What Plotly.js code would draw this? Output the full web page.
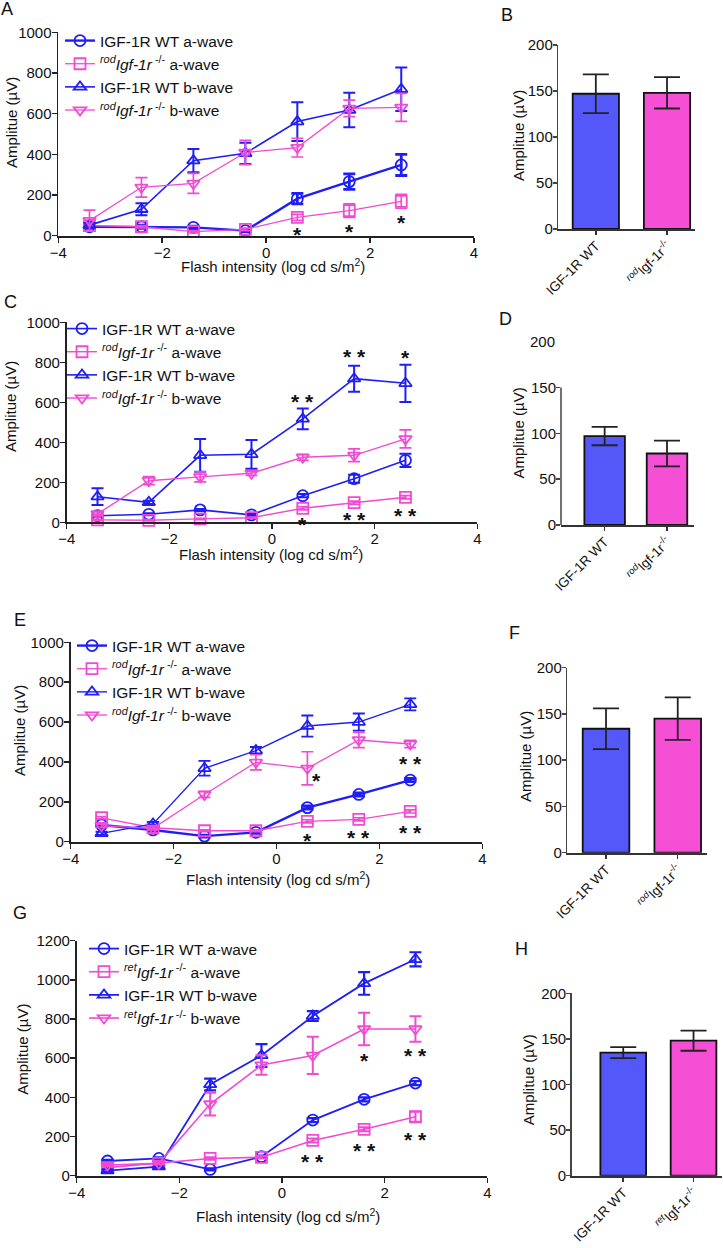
<!DOCTYPE html>
<html>
<head>
<meta charset="utf-8">
<script src="https://cdn.plot.ly/plotly-3.0.1.min.js"></script>
<style>
  html, body { margin: 0; padding: 0; background: #fff; }
  #chart { width: 723px; height: 1248px; }
</style>
</head>
<body>
<div id="chart"></div>
<script>
// flash intensities (log cd s/m2)
const flashX = [-3.4, -2.4, -1.4, -0.4, 0.6, 1.6, 2.6];

// panel A
const aWtA = [44, 44, 41, 25, 182, 266, 348];
const aWtAErr = [8, 8, 6, 6, 26, 38, 52];
const aKoA = [50, 44, 20, 31, 90, 123, 169];
const aKoAErr = [8, 6, 5, 6, 15, 33, 34];
const aWtB = [52, 130, 369, 405, 561, 618, 720];
const aWtBErr = [10, 30, 57, 52, 95, 85, 107];
const aKoB = [74, 238, 257, 409, 433, 626, 631];
const aKoBErr = [52, 48, 49, 60, 46, 41, 69];
const aStarX = [0.6, 1.6, 2.6];
const aStarY = [28, 46, 88];
const aStarText = ['*', '*', '*'];

// panel C
const cWtA = [33, 40, 62, 37, 133, 218, 310];
const cWtAErr = [5, 5, 5, 5, 8, 20, 33];
const cKoA = [12, 10, 17, 23, 70, 98, 125];
const cKoAErr = [3, 3, 3, 3, 8, 8, 8];
const cWtB = [128, 100, 335, 340, 517, 718, 695];
const cWtBErr = [42, 8, 82, 72, 52, 65, 93];
const cKoB = [42, 208, 227, 245, 325, 335, 417];
const cKoBErr = [10, 20, 25, 10, 15, 32, 45];
const cStarX = [0.6, 1.6, 2.6, 0.6, 1.6, 2.6];
const cStarY = [630, 853, 848, 13, 40, 57];
const cStarText = ['* *', '* *', '*', '*', '* *', '* *'];

// panel E
const eWtA = [84, 59, 28, 47, 171, 237, 309];
const eWtAErr = [6, 6, 5, 5, 8, 8, 8];
const eKoA = [120, 70, 55, 55, 102, 112, 152];
const eKoAErr = [6, 5, 5, 5, 8, 8, 8];
const eWtB = [42, 89, 368, 457, 580, 600, 689];
const eWtBErr = [8, 10, 37, 18, 53, 43, 30];
const eKoB = [80, 67, 237, 398, 368, 510, 490];
const eKoBErr = [8, 8, 15, 38, 83, 38, 18];
const eStarX = [0.78, 2.6, 0.6, 1.6, 2.6];
const eStarY = [331, 415, 30, 47, 69];
const eStarText = ['*', '* *', '*', '* *', '* *'];

// panel G
const gWtA = [75, 88, 32, 97, 284, 390, 473];
const gWtAErr = [6, 6, 5, 6, 10, 10, 10];
const gKoA = [41, 63, 88, 94, 180, 237, 301];
const gKoAErr = [6, 6, 6, 6, 10, 10, 25];
const gWtB = [26, 46, 466, 614, 815, 982, 1105];
const gWtBErr = [6, 6, 30, 58, 25, 58, 36];
const gKoB = [54, 63, 366, 565, 614, 749, 749];
const gKoBErr = [6, 6, 58, 50, 95, 83, 65];
const gStarX = [1.6, 2.6, 0.6, 1.6, 2.6];
const gStarY = [616, 638, 97, 153, 208];
const gStarText = ['*', '* *', '* *', '* *', '* *'];

// bar panels (B, D, F, H)
const barB = [147, 148];
const barBErr = [21, 17];
const barD = [97, 78];
const barDErr = [10, 14];
const barF = [134, 145];
const barFErr = [22, 23];
const barH = [135, 148];
const barHErr = [6, 11];

const W = 723;
const H = 1248;
const BLUE = '#1f1ff5';
const PINK = '#f04bd2';
const BAR_BLUE = '#5558f8';
const BAR_PINK = '#f54fd6';
const FONT = 'Liberation Sans, Arial, sans-serif';
const Y_TITLE = 'Amplitue (µV)';
const X_TITLE = 'Flash intensity (log cd s/m<sup>2</sup>)';

const px = v => v / W;
const py = v => 1 - v / H;

function koLabel(prefix) {
    return `<i><sup>${prefix}</sup>Igf-1r</i><sup> -/-</sup>`;
}

const linePanels = [
    {
        n: 1, letter: 'A', ko: 'rod', ymax: 1000, xPx: [58.3, 474], yPx: [235.7, 32.3],
        letterAt: [7, 9], legendAt: [60, 24], xTitleAt: [272.5, 265], yTitleAt: [12, 123],
        series: [[aWtA, aWtAErr], [aKoA, aKoAErr], [aWtB, aWtBErr], [aKoB, aKoBErr]],
        widths: [2.4, 1.3, 1.6, 1.3], stars: [aStarX, aStarY, aStarText],
    },
    {
        n: 3, letter: 'C', ko: 'rod', ymax: 1000, xPx: [66.7, 477.3], yPx: [522.3, 322.3],
        letterAt: [10, 302], legendAt: [62, 312], xTitleAt: [271, 553], yTitleAt: [10, 407],
        series: [[cWtA, cWtAErr], [cKoA, cKoAErr], [cWtB, cWtBErr], [cKoB, cKoBErr]],
        widths: [1.6, 1.4, 1.6, 1.4], stars: [cStarX, cStarY, cStarText],
    },
    {
        n: 5, letter: 'E', ko: 'rod', ymax: 1000, xPx: [70.7, 482.3], yPx: [841.7, 642.3],
        letterAt: [19.5, 619.5], legendAt: [72, 629], xTitleAt: [277.5, 878], yTitleAt: [19, 731],
        series: [[eWtA, eWtAErr], [eKoA, eKoAErr], [eWtB, eWtBErr], [eKoB, eKoBErr]],
        widths: [2.4, 1.3, 1.4, 1.3], stars: [eStarX, eStarY, eStarText],
    },
    {
        n: 7, letter: 'G', ko: 'ret', ymax: 1200, xPx: [76.7, 487.3], yPx: [1175.7, 940.7],
        letterAt: [20, 913], legendAt: [84, 932], xTitleAt: [287.5, 1215], yTitleAt: [21.7, 1049],
        series: [[gWtA, gWtAErr], [gKoA, gKoAErr], [gWtB, gWtBErr], [gKoB, gKoBErr]],
        widths: [1.8, 1.6, 1.8, 1.6], stars: [gStarX, gStarY, gStarText],
    },
];

const barPanels = [
    { n: 2, letter: 'B', ko: 'rod', vals: barB, errs: barBErr, xPx: [558.3, 695], yPx: [229, 45], xr: [-0.527, 1.393], letterAt: [507, 14.5], yTitleAt: [518, 136] },
    { n: 4, letter: 'D', ko: 'rod', vals: barD, errs: barDErr, xPx: [561, 694], yPx: [525, 341.7], xr: [-0.70, 1.433], letterAt: [505, 319], yTitleAt: [517.5, 433], shortAxis: true },
    { n: 6, letter: 'F', ko: 'rod', vals: barF, errs: barFErr, xPx: [567.3, 706.7], yPx: [852.7, 667.7], xr: [-0.54, 1.404], letterAt: [514, 633], yTitleAt: [525, 757] },
    { n: 8, letter: 'H', ko: 'ret', vals: barH, errs: barHErr, xPx: [571.7, 722], yPx: [1175.7, 993.3], xr: [-0.733, 1.405], letterAt: [521.5, 948.5], yTitleAt: [528.3, 1080] },
];

const traces = [];
const layout = {
    width: W,
    height: H,
    margin: { l: 0, r: 0, t: 0, b: 0 },
    paper_bgcolor: '#fff',
    plot_bgcolor: 'rgba(0,0,0,0)',
    font: { family: FONT, size: 15, color: '#111' },
    showlegend: true,
    annotations: [],
    shapes: [],
};

function axisId(n) { return n === 1 ? '' : String(n); }

function paperText(text, at, size, angle) {
    return {
        xref: 'paper', yref: 'paper', x: px(at[0]), y: py(at[1]),
        xanchor: 'center', yanchor: 'middle', showarrow: false,
        text: text, textangle: angle || 0, font: { size: size, color: '#111' },
    };
}

linePanels.forEach(p => {
    const id = axisId(p.n);
    const xa = 'x' + id;
    const ya = 'y' + id;
    const legendName = p.n === 1 ? 'legend' : 'legend' + p.n;
    const names = [
        'IGF-1R WT a-wave',
        `${koLabel(p.ko)} a-wave`,
        'IGF-1R WT b-wave',
        `${koLabel(p.ko)} b-wave`,
    ];
    const symbols = ['circle-open', 'square-open', 'triangle-up-open', 'triangle-down-open'];
    const colors = [BLUE, PINK, BLUE, PINK];

    p.series.forEach(([vals, errs], i) => {
        traces.push({
            type: 'scatter',
            mode: 'lines+markers',
            x: flashX,
            y: vals,
            xaxis: xa,
            yaxis: ya,
            name: names[i],
            legend: legendName,
            cliponaxis: false,
            line: { color: colors[i], width: p.widths[i] },
            marker: { symbol: symbols[i], size: 11, color: colors[i], line: { width: 1.8, color: colors[i] } },
            error_y: { type: 'data', array: errs, visible: true, color: colors[i], thickness: p.widths[i] + 0.4, width: 6 },
        });
    });

    layout['xaxis' + id] = {
        domain: [px(p.xPx[0]), px(p.xPx[1])],
        anchor: ya,
        range: [-4, 4],
        tickvals: [-4, -2, 0, 2, 4],
        ticks: 'outside', ticklen: 5, tickwidth: 1.5, tickcolor: '#222',
        ticklabelstandoff: -3,
        showline: true, linecolor: '#222', linewidth: 1.8,
        showgrid: false, zeroline: false,
        tickfont: { size: 15 },
    };
    layout['yaxis' + id] = {
        domain: [py(p.yPx[0]), py(p.yPx[1])],
        anchor: xa,
        range: [0, p.ymax],
        dtick: 200,
        ticks: 'outside', ticklen: 5, tickwidth: 1.5, tickcolor: '#222',
        ticklabelstandoff: -3,
        showline: true, linecolor: '#222', linewidth: 1.8,
        showgrid: false, zeroline: false,
        tickfont: { size: 15 },
    };
    layout[legendName] = {
        x: px(p.legendAt[0]), y: py(p.legendAt[1]),
        xanchor: 'left', yanchor: 'top',
        bgcolor: 'rgba(0,0,0,0)',
        font: { size: 15.5, color: '#111' },
        itemwidth: 30,
        tracegroupgap: 0,
    };

    const [sx, sy, st] = p.stars;
    sx.forEach((x, i) => {
        layout.annotations.push({
            xref: xa, yref: ya, x: x, y: sy[i], text: `<b>${st[i]}</b>`,
            showarrow: false, xanchor: 'center', yanchor: 'middle', yshift: -5,
            font: { size: 21, color: '#111' },
        });
    });
    layout.annotations.push(paperText(X_TITLE, p.xTitleAt, 15));
    layout.annotations.push(paperText(Y_TITLE, p.yTitleAt, 15, -90));
    layout.annotations.push(paperText(p.letter, p.letterAt, 18));
});

barPanels.forEach(p => {
    const id = axisId(p.n);
    const xa = 'x' + id;
    const ya = 'y' + id;
    traces.push({
        type: 'bar',
        x: [0, 1],
        y: p.vals,
        xaxis: xa,
        yaxis: ya,
        width: 0.65,
        showlegend: false,
        marker: { color: [BAR_BLUE, BAR_PINK], line: { color: '#111', width: 1.8 } },
        error_y: { type: 'data', array: p.errs, visible: true, color: '#222', thickness: 1.8, width: 13 },
    });
    layout['xaxis' + id] = {
        domain: [px(p.xPx[0]), px(p.xPx[1])],
        anchor: ya,
        range: p.xr,
        tickvals: [0, 1],
        ticktext: ['IGF-1R WT', `<sup><i>${p.ko}</i></sup>Igf-1r<sup>-/-</sup>`],
        tickangle: -45,
        ticks: 'outside', ticklen: 4, tickwidth: 1.5, tickcolor: '#333',
        ticklabelstandoff: -2,
        showline: true, linecolor: '#333', linewidth: 1.8,
        showgrid: false, zeroline: false,
        tickfont: { size: 13.5 },
    };
    layout['yaxis' + id] = {
        domain: [py(p.yPx[0]), py(p.yPx[1])],
        anchor: xa,
        range: [0, 200],
        tickvals: p.shortAxis ? [0, 50, 100, 150] : [0, 50, 100, 150, 200],
        ticks: 'outside', ticklen: 4, tickwidth: 1.5, tickcolor: '#444',
        ticklabelstandoff: -3,
        showline: !p.shortAxis, linecolor: '#444', linewidth: 1.5,
        showgrid: false, zeroline: false,
        tickfont: { size: 15 },
    };
    if (p.shortAxis) {
        // axis line only reaches 150, the 200 label floats above it
        layout.shapes.push({
            type: 'line', xref: xa + ' domain', yref: ya, x0: 0, x1: 0, y0: 0, y1: 150,
            line: { color: '#444', width: 1.5 },
        });
        layout.annotations.push({
            xref: xa + ' domain', yref: ya, x: 0, y: 200, text: '200',
            showarrow: false, xanchor: 'right', yanchor: 'middle', xshift: -4,
            font: { size: 15, color: '#111' },
        });
    }
    layout.annotations.push(paperText(Y_TITLE, p.yTitleAt, 15, -90));
    layout.annotations.push(paperText(p.letter, p.letterAt, 18));
});

Plotly.newPlot('chart', traces, layout, { displayModeBar: false, staticPlot: true });
</script>
</body>
</html>
